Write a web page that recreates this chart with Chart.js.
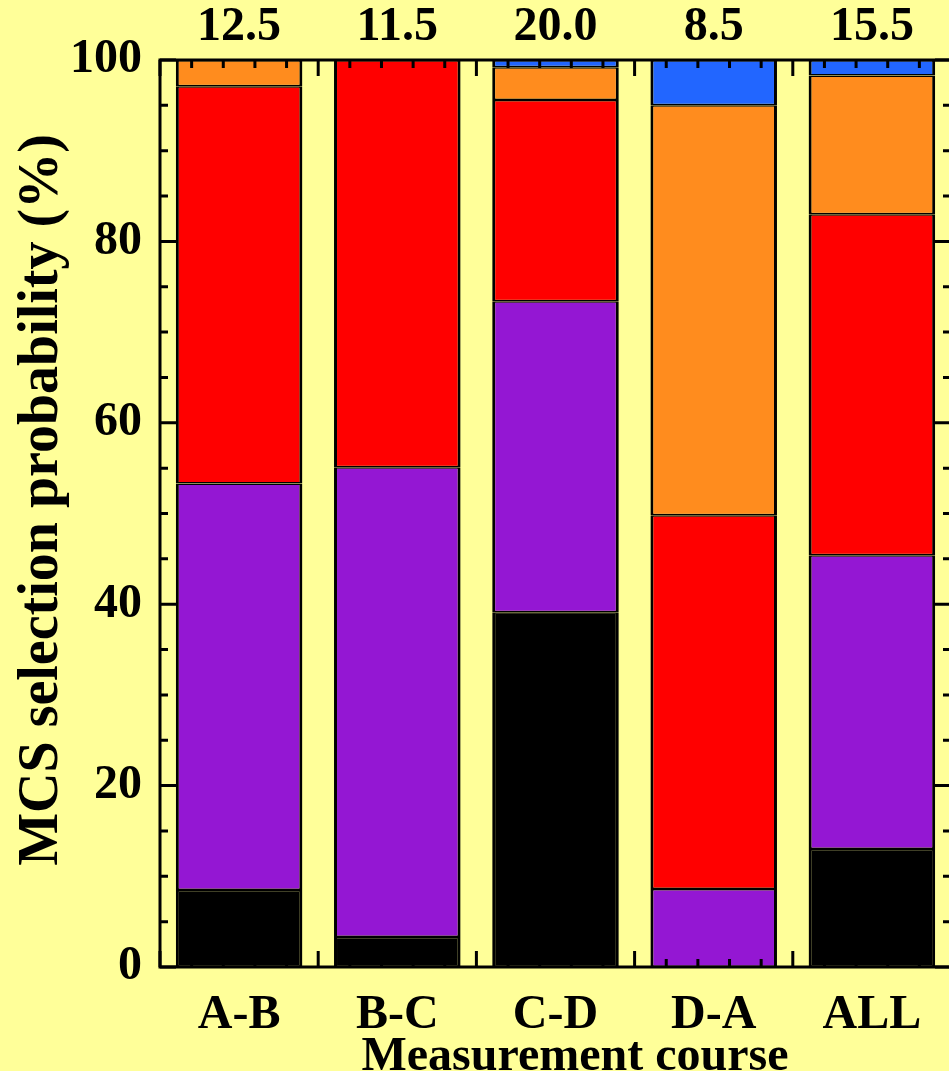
<!DOCTYPE html>
<html>
<head>
<meta charset="utf-8">
<script src="https://cdn.jsdelivr.net/npm/chart.js@4"></script>
<style>
	html, body { margin: 0; padding: 0; background: #ffff99; }
	#wrap { width: 949px; height: 1071px; overflow: hidden; position: relative; background: #ffff99; }
	#chart { display: block; }
</style>
</head>
<body>
<div id="wrap"><canvas id="chart" width="960" height="1090"></canvas></div>
<script>
	'use strict';

	// values (percent, bottom of stack first)
	const categories	= ['A-B', 'B-C', 'C-D', 'D-A', 'ALL'];
	const topValues		= ['12.5', '11.5', '20.0', '8.5', '15.5'];
	const blackVals		= [8.5, 3.3, 39.1, 0, 13.0];
	const purpleVals	= [44.8, 51.8, 34.3, 8.6, 32.4];
	const redVals		= [43.8, 44.9, 22.2, 41.2, 37.6];
	const orangeVals	= [2.9, 0, 3.6, 45.2, 15.3];
	const blueVals		= [0, 0, 0.8, 5.0, 1.7];
	const yTicks		= [0, 20, 40, 60, 80, 100];
	const xTitle		= 'Measurement course';
	const yTitle		= 'MCS selection probability (%)';

	const FONT = "'Liberation Serif', 'Times New Roman', serif";

	function series(data, color) {
		return {
			data: data,
			backgroundColor: color,
			borderColor: '#000',
			borderWidth: { left: 3, right: 3, top: 1.5, bottom: 1.5 },
			borderSkipped: false,
			stack: 'mcs'
		};
	}

	// frame, inward ticks on all four sides, axis titles and the numbers over the bars
	const frameTicks = {
		id: 'frameTicks',
		afterDatasetsDraw(chart) {
			let ctx	= chart.ctx;
			let a	= chart.chartArea;
			let x	= chart.scales.x;
			let y	= chart.scales.y;

			ctx.save();
			ctx.strokeStyle = '#000';
			ctx.lineWidth = 3;
			ctx.beginPath();
			for (let v = 0; v <= 100; v += 5) {
				let py	= y.getPixelForValue(v);
				let len	= v % 20 === 0 ? 16 : 8;
				ctx.moveTo(a.left, py); ctx.lineTo(a.left + len, py);
				ctx.moveTo(a.right, py); ctx.lineTo(a.right - len, py);
			}
			for (let k = 0; k <= 25; k++) {
				let px	= x.getPixelForValue(-0.5 + 0.2 * k);
				let len	= k % 5 === 0 ? 16 : 8;
				ctx.moveTo(px, a.top); ctx.lineTo(px, a.top + len);
				ctx.moveTo(px, a.bottom); ctx.lineTo(px, a.bottom - len);
			}
			ctx.stroke();
			ctx.strokeRect(a.left, a.top, a.right - a.left, a.bottom - a.top);

			ctx.fillStyle = '#000';
			ctx.font = 'bold 48px ' + FONT;
			ctx.textAlign = 'center';
			ctx.textBaseline = 'middle';
			topValues.forEach(function (t, i) {
				ctx.fillText(t, x.getPixelForValue(i), 28);
			});

			ctx.textBaseline = 'alphabetic';
			ctx.fillText(xTitle, 575, 1070);

			ctx.font = 'bold 56px ' + FONT;
			ctx.translate(57, 500);
			ctx.rotate(-Math.PI / 2);
			ctx.fillText(yTitle, 0, 0);
			ctx.restore();
		}
	};

	let ctx = document.getElementById('chart').getContext('2d');

	let mcsChart = new Chart(ctx, {
		type: 'bar',
		data: {
			labels: categories,
			datasets: [
				series(blackVals, '#000000'),
				series(purpleVals, '#9417d3'),
				series(redVals, '#ff0000'),
				series(orangeVals, '#ff8c1e'),
				series(blueVals, '#2266ff')
			]
		},
		options: {
			responsive: false,
			animation: false,
			devicePixelRatio: 1,
			layout: { padding: { top: 60, right: 9, left: 0, bottom: 0 } },
			datasets: { bar: { categoryPercentage: 1, barPercentage: 0.8 } },
			plugins: { legend: { display: false }, tooltip: { enabled: false } },
			scales: {
				x: {
					stacked: true,
					grid: { display: false },
					border: { display: false },
					ticks: {
						color: '#000',
						padding: 12,
						maxRotation: 0,
						font: { family: FONT, size: 48, weight: 'bold' }
					},
					afterFit: function (s) { s.height = 123; }
				},
				y: {
					stacked: true,
					min: 0,
					max: 100,
					grid: { display: false },
					border: { display: false },
					afterBuildTicks: function (s) {
						s.ticks = yTicks.map(function (v) { return { value: v }; });
					},
					ticks: {
						color: '#000',
						padding: 10,
						font: { family: FONT, size: 48, weight: 'bold' }
					},
					afterFit: function (s) { s.width = 160; }
				}
			}
		},
		plugins: [frameTicks]
	});
</script>
</body>
</html>
